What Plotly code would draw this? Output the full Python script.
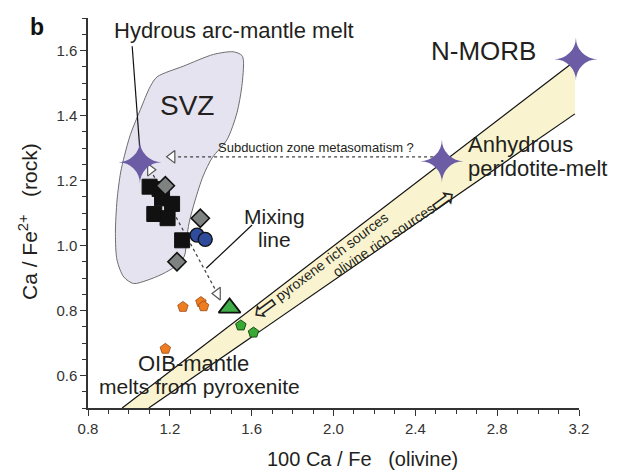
import plotly.graph_objects as go

# ---- data -------------------------------------------------------------
# SVZ field outline (100 Ca/Fe olivine, Ca/Fe2+ rock)
svz_x = [1.138, 1.267, 1.414, 1.511, 1.552, 1.560, 1.552, 1.528, 1.479, 1.407,
         1.363, 1.324, 1.295, 1.281, 1.271, 1.227, 1.163, 1.089, 1.023, 0.975,
         0.942, 0.934, 0.942, 0.959, 0.978, 1.007, 1.056, 1.105]
svz_y = [1.519, 1.552, 1.588, 1.596, 1.585, 1.567, 1.490, 1.408, 1.325, 1.270,
         1.214, 1.140, 1.072, 1.017, 0.967, 0.936, 0.912, 0.893, 0.883, 0.903,
         0.955, 1.037, 1.140, 1.223, 1.276, 1.341, 1.418, 1.490]

# peridotite melt band (upper and lower limits)
band_up_x = [0.967, 3.18]
band_up_y = [0.50, 1.568]
band_lo_x = [1.097, 3.18]
band_lo_y = [0.50, 1.405]

# end-member melts
star_names = ["Hydrous arc-mantle melt", "Anhydrous peridotite-melt", "N-MORB"]
star_x = [1.056, 2.528, 3.183]
star_y = [1.273, 1.274, 1.588]

# SVZ samples
sq_x = [1.101, 1.150, 1.162, 1.211, 1.124, 1.189, 1.260]
sq_y = [1.181, 1.174, 1.145, 1.128, 1.097, 1.084, 1.016]
dia_x = [1.178, 1.349, 1.235]
dia_y = [1.184, 1.084, 0.950]
circ_x = [1.333, 1.373]
circ_y = [1.032, 1.019]

# OIB samples
oib_x = [1.264, 1.352, 1.365, 1.178]
oib_y = [0.811, 0.826, 0.813, 0.682]
gtri_x = [1.492]
gtri_y = [0.808]
gpent_x = [1.547, 1.609]
gpent_y = [0.754, 0.732]

# mixing line and metasomatism trend
mix_x = [1.105, 1.433]
mix_y = [1.233, 0.852]
meta_x = [1.211, 2.50]
meta_y = [1.273, 1.273]

x_ticks = [0.8, 1.2, 1.6, 2.0, 2.4, 2.8, 3.2]
y_ticks = [0.6, 0.8, 1.0, 1.2, 1.4, 1.6]

FONT = "Liberation Sans, Arial, sans-serif"
INK = "#231f20"

fig = go.Figure()

# SVZ field
fig.add_trace(go.Scatter(x=svz_x + svz_x[:1], y=svz_y + svz_y[:1], mode="lines",
                         line=dict(color="#6d6d6d", width=1, shape="spline", smoothing=0.8),
                         fill="toself", fillcolor="#e5e3ef", hoverinfo="skip"))

# band fill and edges
fig.add_trace(go.Scatter(x=band_up_x + band_lo_x[::-1], y=band_up_y + band_lo_y[::-1],
                         mode="none", fill="toself", fillcolor="#f9f4cf", hoverinfo="skip"))
fig.add_trace(go.Scatter(x=band_up_x, y=band_up_y, mode="lines",
                         line=dict(color="#111", width=1.2), hoverinfo="skip"))
fig.add_trace(go.Scatter(x=band_lo_x, y=band_lo_y, mode="lines",
                         line=dict(color="#111", width=1.2), hoverinfo="skip"))

# dotted trends
fig.add_trace(go.Scatter(x=mix_x, y=mix_y, mode="lines",
                         line=dict(color="#444", width=1.3, dash="dot"), hoverinfo="skip"))
fig.add_trace(go.Scatter(x=meta_x, y=meta_y, mode="lines",
                         line=dict(color="#444", width=1.3, dash="dot"), hoverinfo="skip"))

# leader lines
fig.add_trace(go.Scatter(x=[1.016, star_x[0]], y=[1.613, star_y[0]], mode="lines",
                         line=dict(color="#111", width=1.2), hoverinfo="skip"))
fig.add_trace(go.Scatter(x=[1.602, 1.378], y=[1.063, 0.930], mode="lines",
                         line=dict(color="#111", width=1.2), hoverinfo="skip"))

# open arrowheads
fig.add_trace(go.Scatter(x=[mix_x[0]], y=[mix_y[0]], mode="markers",
                         marker=dict(symbol="triangle-right", size=11, color="white",
                                     line=dict(color="#555", width=1.2))))
fig.add_trace(go.Scatter(x=[mix_x[1]], y=[mix_y[1]], mode="markers",
                         marker=dict(symbol="triangle-left", size=11, color="white",
                                     line=dict(color="#555", width=1.2))))
fig.add_trace(go.Scatter(x=[meta_x[0]], y=[meta_y[0]], mode="markers",
                         marker=dict(symbol="triangle-left", size=11, color="white",
                                     line=dict(color="#555", width=1.2))))

# samples
fig.add_trace(go.Scatter(x=sq_x, y=sq_y, mode="markers",
                         marker=dict(symbol="square", size=15, color="#111",
                                     line=dict(color="#111", width=1))))
fig.add_trace(go.Scatter(x=dia_x, y=dia_y, mode="markers",
                         marker=dict(symbol="diamond", size=14, color="#7e8382",
                                     line=dict(color="#111", width=1.6))))
fig.add_trace(go.Scatter(x=circ_x, y=circ_y, mode="markers",
                         marker=dict(symbol="circle", size=14, color="#2f4b9c",
                                     line=dict(color="#111", width=1.4))))
fig.add_trace(go.Scatter(x=oib_x, y=oib_y, mode="markers",
                         marker=dict(symbol="pentagon", size=11, color="#ee7d22",
                                     line=dict(color="#9a4a10", width=0.8))))
fig.add_trace(go.Scatter(x=gpent_x, y=gpent_y, mode="markers",
                         marker=dict(symbol="pentagon", size=11, color="#39a935",
                                     line=dict(color="#1d4d1a", width=1))))
fig.add_trace(go.Scatter(x=gtri_x, y=gtri_y, mode="markers",
                         marker=dict(symbol="triangle-up", size=19, color="#3fae49",
                                     line=dict(color="#111", width=1.8))))


def label(x, y, text, size, **kw):
    d = dict(x=x, y=y, xref="x", yref="y", text=text, showarrow=False,
             font=dict(family=FONT, size=size, color=INK))
    d.update(kw)
    return d


# end-member melts: four-pointed stars (glyphs, so they may overhang the axes)
star_marks = [
    dict(x=sx, y=sy, xref="x", yref="y", text="\u2726", showarrow=False,
         hovertext=name, yshift=-6, xanchor="center", yanchor="middle",
         font=dict(family="DejaVu Sans", size=57, color="#6b5ca5"))
    for sx, sy, name in zip(star_x, star_y, star_names)
]

annotations = star_marks + [
    label(1.515, 1.663, "Hydrous arc-mantle melt", 22),
    label(1.285, 1.430, "SVZ", 28),
    label(2.731, 1.598, "N-MORB", 26),
    label(2.650, 1.310, "Anhydrous", 22, xanchor="left"),
    label(2.650, 1.236, "peridotite-melt", 22, xanchor="left"),
    label(1.710, 1.088, "Mixing", 21),
    label(1.710, 1.020, "line", 21),
    label(1.315, 0.637, "OIB-mantle", 22),
    label(1.344, 0.566, "melts from pyroxenite", 21),
    label(1.912, 1.301, "Subduction zone metasomatism ?", 13),
    label(1.988, 0.966, "pyroxene rich sources", 14, textangle=-37),
    label(2.246, 1.017, "olivine rich sources", 14, textangle=-34),
    label(1.662, 0.812, "\u21e6", 31, textangle=-36,
          font=dict(family="DejaVu Sans", size=31, color=INK)),
    label(2.533, 1.140, "\u21e8", 31, textangle=-36,
          font=dict(family="DejaVu Sans", size=31, color=INK)),
    # axis titles and panel letter
    dict(x=0.5, y=0, xref="paper", yref="paper", xshift=29, yshift=-51,
         xanchor="center", yanchor="middle",
         text="100 Ca / Fe   (olivine)", showarrow=False,
         font=dict(family=FONT, size=20, color=INK)),
    dict(x=0, y=0.5, xref="paper", yref="paper", xshift=-60, yshift=-9,
         xanchor="center", yanchor="middle",
         text="Ca / Fe<sup>2+</sup>   (rock)", showarrow=False, textangle=-90,
         font=dict(family=FONT, size=21, color=INK)),
    dict(x=0, y=1, xref="paper", yref="paper", xshift=-51, yshift=-9,
         xanchor="center", yanchor="middle",
         text="<b>b</b>", showarrow=False,
         font=dict(family=FONT, size=23, color="#111")),
]

axis_common = dict(showgrid=False, zeroline=False, showline=True,
                   linecolor="#333", linewidth=1.5, ticks="outside",
                   tickcolor="#333", tickwidth=1.2, ticklen=6,
                   tickfont=dict(family=FONT, size=15, color="#333"))

fig.update_layout(
    width=642, height=471,
    margin=dict(l=88, r=63, t=18, b=63),
    paper_bgcolor="white", plot_bgcolor="white",
    showlegend=False,
    annotations=annotations,
    xaxis=dict(range=[0.8, 3.2], tickvals=x_ticks,
               ticktext=[f"{v:.1f}" for v in x_ticks],
               minor=dict(dtick=0.1, tick0=0.8, ticks="outside", ticklen=4,
                          tickcolor="#333", tickwidth=1),
               **axis_common),
    yaxis=dict(range=[0.5, 1.7], tickvals=y_ticks,
               ticktext=[f"{v:.1f}" for v in y_ticks],
               minor=dict(dtick=0.05, tick0=0.5, ticks="outside", ticklen=4,
                          tickcolor="#333", tickwidth=1),
               **axis_common),
)

fig.write_html("out.html")
